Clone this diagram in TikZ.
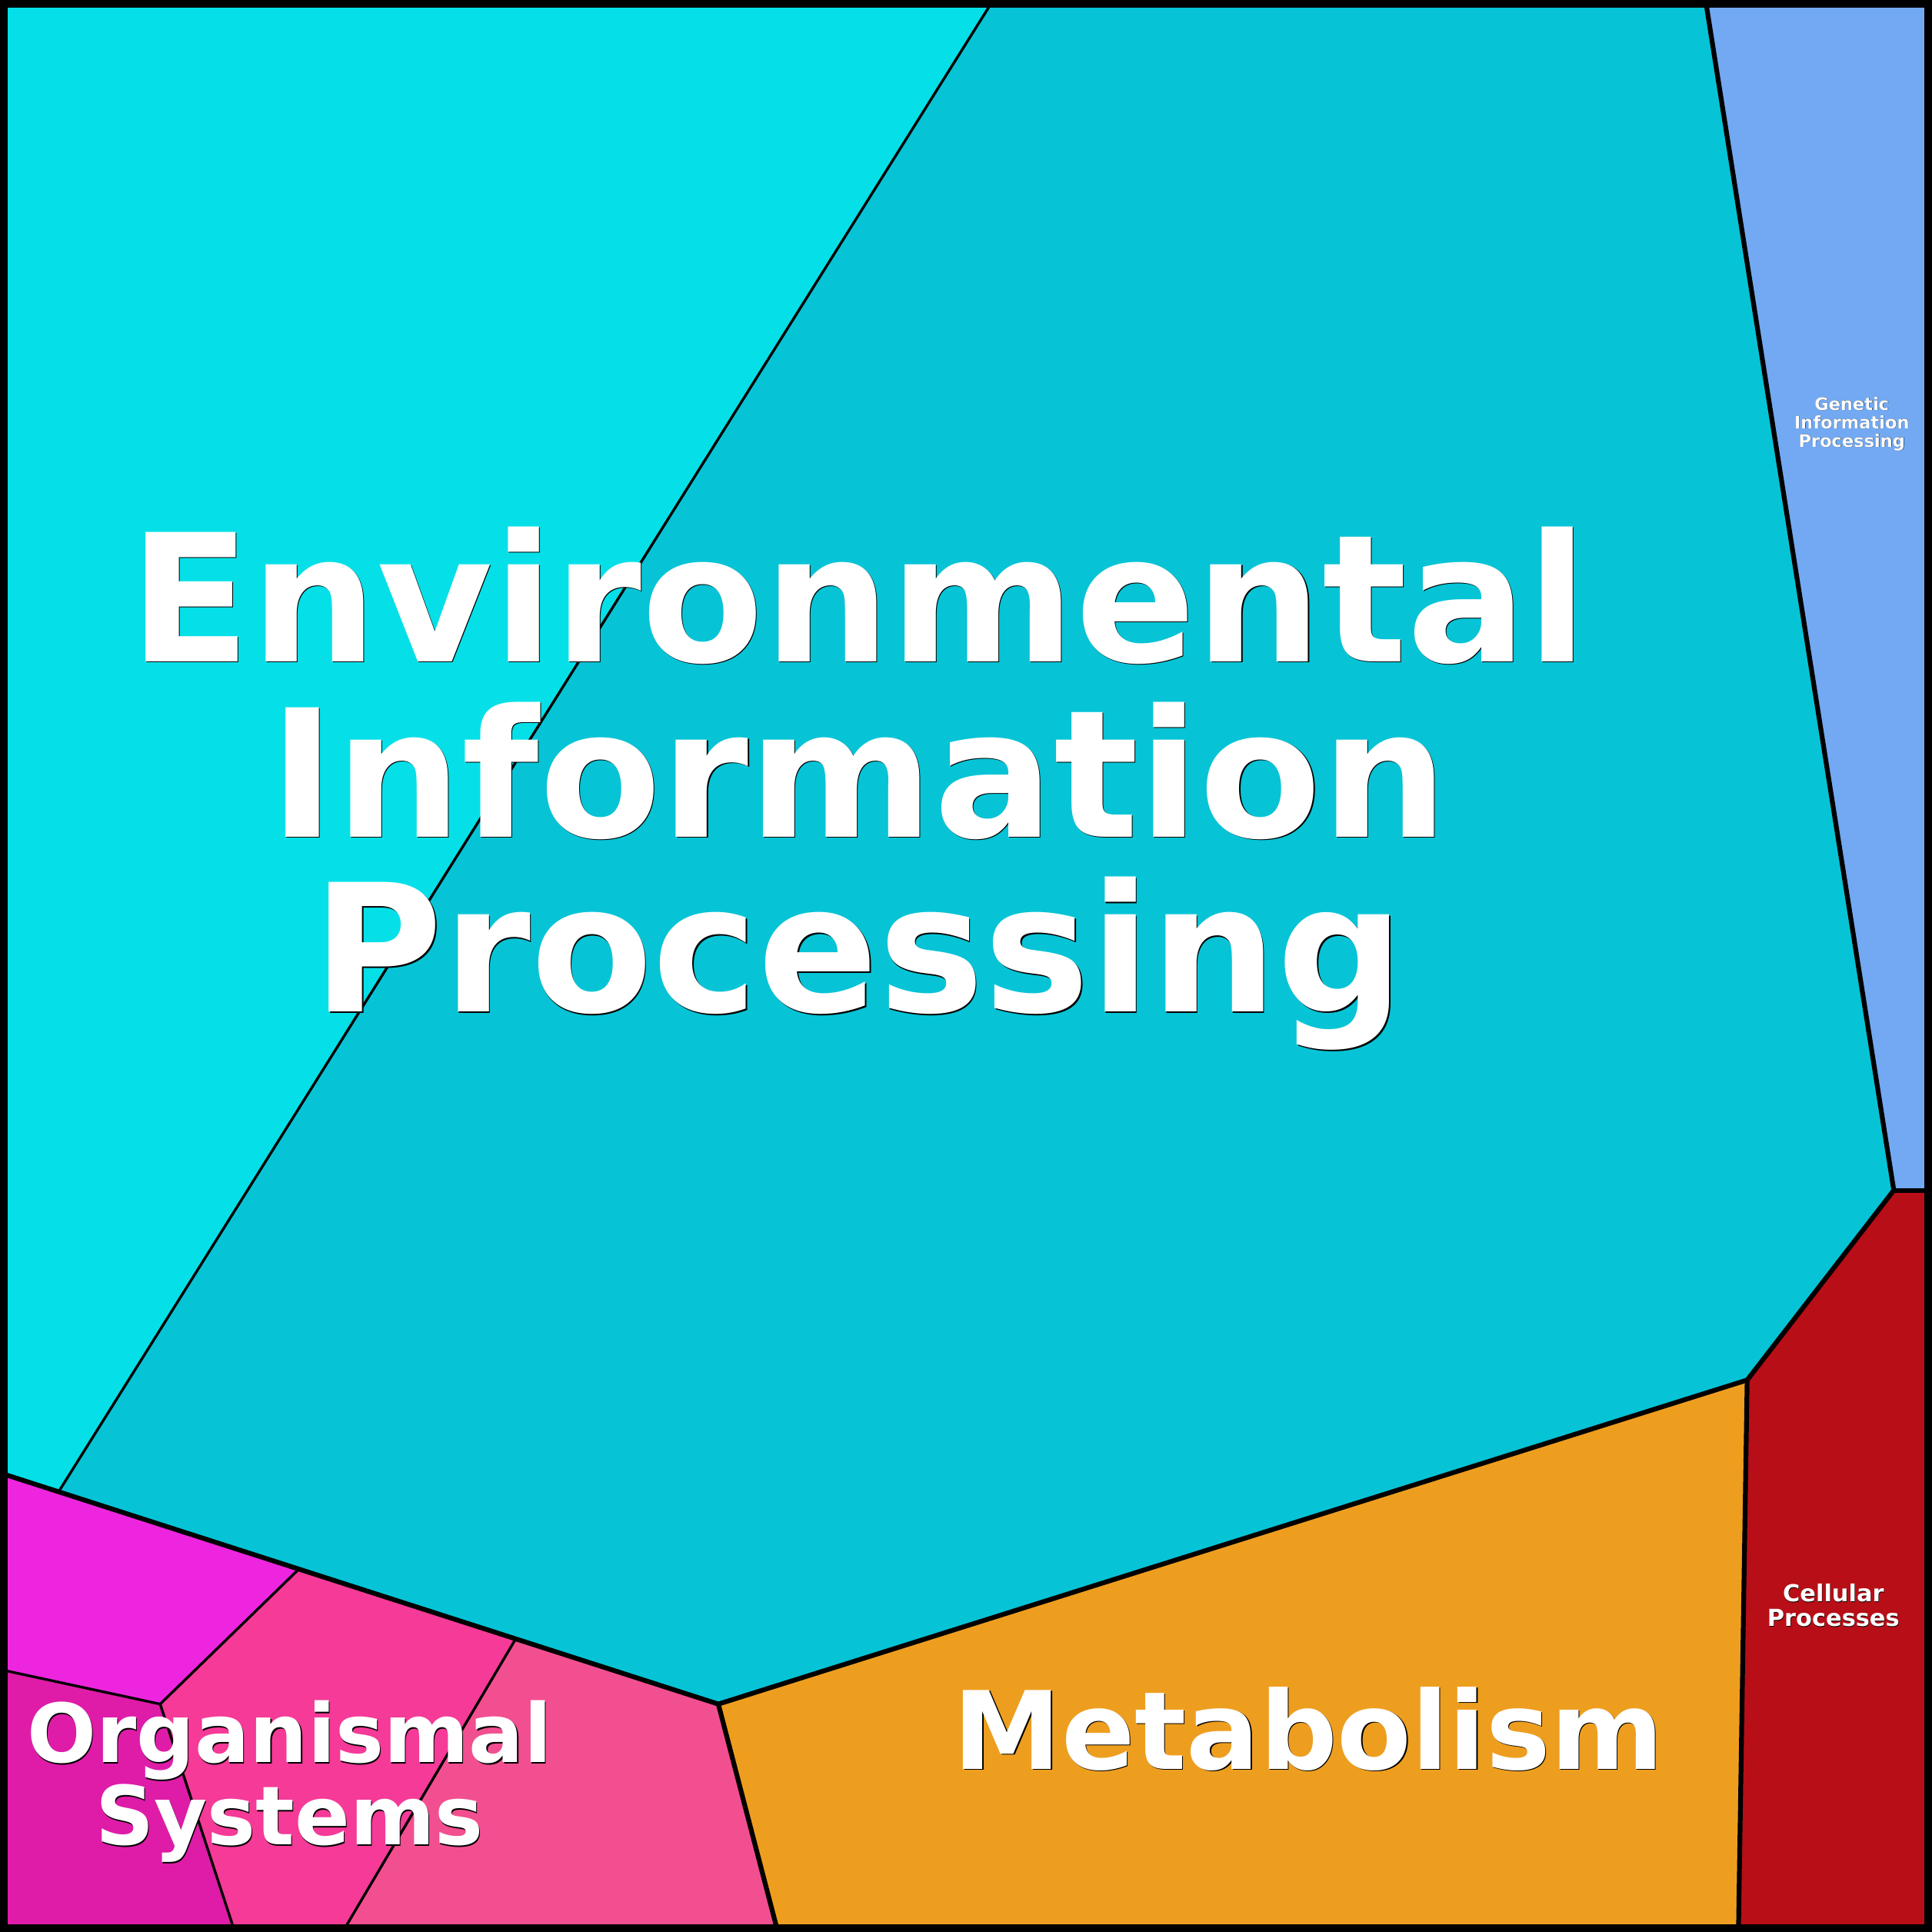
\documentclass[tikz,border=0pt]{standalone}
\usepackage{fontspec}
\setmainfont{DejaVu Sans}
\begin{document}
\begin{tikzpicture}[x=0.01cm,y=-0.01cm,
 reg/.style={draw=black,line width=1.1pt,line join=round},
 sub/.style={draw=black,line width=0.6pt},
 lab/.style={align=center,font=\bfseries,inner sep=0}]
\definecolor{envA}{HTML}{05E0E8}\definecolor{envB}{HTML}{06C4D6}
\definecolor{gen}{HTML}{72A9F2}\definecolor{cel}{HTML}{B80E17}
\definecolor{met}{HTML}{EE9E1F}\definecolor{orgA}{HTML}{EE25DE}
\definecolor{orgB}{HTML}{F53A98}\definecolor{orgC}{HTML}{F24F91}
\definecolor{orgD}{HTML}{DE1CA8}
\useasboundingbox (0,0) rectangle (1568,1568);
\fill[envB] (5,1197)--(583,1383)--(1418,1120)--(1537,966)--(1385,5)--(5,5)--cycle;
\fill[envA] (5,5)--(803,5)--(48,1210)--(5,1197)--cycle;
\draw[sub] (803,5)--(48,1210);
\fill[gen] (1385,5)--(1563,5)--(1563,966)--(1537,966)--cycle;
\fill[cel] (1537,966)--(1563,966)--(1563,1563)--(1411,1563)--(1418,1120)--cycle;
\fill[met] (583,1383)--(1418,1120)--(1411,1563)--(630,1563)--cycle;
\fill[orgA] (5,1197)--(242,1274)--(130,1383)--(5,1356)--cycle;
\fill[orgB] (242,1274)--(418,1331)--(281,1563)--(189,1563)--(130,1383)--cycle;
\fill[orgC] (418,1331)--(583,1383)--(630,1563)--(281,1563)--cycle;
\fill[orgD] (5,1356)--(130,1383)--(189,1563)--(5,1563)--cycle;
\draw[sub] (242,1274)--(130,1383)--(5,1356);
\draw[sub] (130,1383)--(189,1563);
\draw[sub] (418,1331)--(281,1563);
\draw[reg] (5,1197)--(583,1383)--(1418,1120)--(1537,966)--(1385,5);
\draw[reg] (583,1383)--(630,1563);
\draw[reg] (1418,1120)--(1411,1563);
\draw[reg] (1537,966)--(1563,966);
\draw[draw=black,line width=2pt] (3,3) rectangle (1565,1565);
\foreach \c/\o in {black/0.8, white/0} {
\node[lab,text=\c,font=\bfseries\fontsize{41}{40.4}\selectfont] at (697+\o,640+\o) {Environmental\\Information\\Processing};
\node[lab,text=\c,font=\bfseries\fontsize{25}{25}\selectfont] at (1062+\o,1403+\o) {Metabolism};
\node[lab,text=\c,font=\bfseries\fontsize{18.8}{16.5}\selectfont] at (235+\o,1446+\o) {Organismal\\Systems};
\node[lab,text=\c,font=\bfseries\fontsize{5.4}{5.7}\selectfont] at (1488+\o/3,1303+\o/3) {Cellular\\Processes};
\node[lab,text=\c,font=\bfseries\fontsize{4}{4.3}\selectfont] at (1503+\o/4,344+\o/4) {Genetic\\Information\\Processing};
}
\end{tikzpicture}
\end{document}
